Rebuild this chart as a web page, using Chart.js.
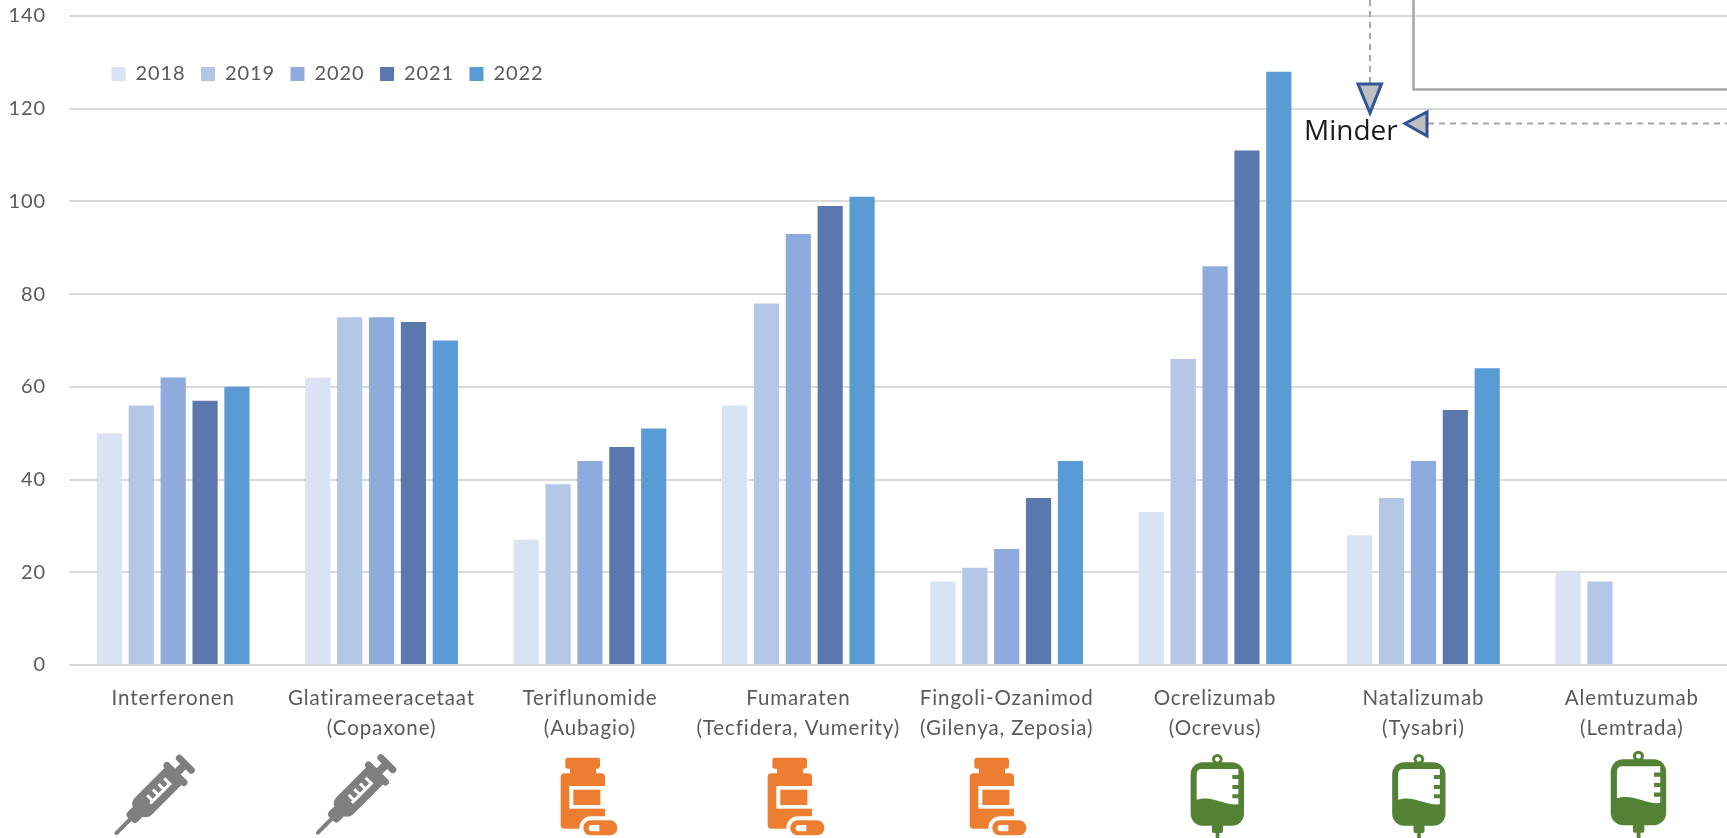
<!DOCTYPE html>
<html>
<head>
<meta charset="utf-8">
<style>
html, body { margin: 0; padding: 0; background: #fff; overflow: hidden; width: 1727px; height: 838px; }
canvas { display: block; }
</style>
<script src="https://cdn.jsdelivr.net/npm/chart.js@4/dist/chart.umd.js"></script>
</head>
<body>
<canvas id="myChart" width="1736" height="838"></canvas>
<script>
var categories = [
    'Interferonen',
    ['Glatirameeracetaat', '(Copaxone)'],
    ['Teriflunomide', '(Aubagio)'],
    ['Fumaraten', '(Tecfidera, Vumerity)'],
    ['Fingoli-Ozanimod', '(Gilenya, Zeposia)'],
    ['Ocrelizumab', '(Ocrevus)'],
    ['Natalizumab', '(Tysabri)'],
    ['Alemtuzumab', '(Lemtrada)']
];
var values2018 = [50, 62, 27, 56, 18, 33, 28, 20];
var values2019 = [56, 75, 39, 78, 21, 66, 36, 18];
var values2020 = [62, 75, 44, 93, 25, 86, 44, null];
var values2021 = [57, 74, 47, 99, 36, 111, 55, null];
var values2022 = [60, 70, 51, 101, 44, 128, 64, null];

var TEXT = '#595959';
var FONT = 'Lato';
var SPACING = '0.9px';

function syringe(ctx, tipX, tipY) {
    ctx.save();
    // local y runs from the needle tip up along the syringe
    ctx.transform(0.7071, 0.7071, 0.7071, -0.7071, tipX, tipY);
    ctx.fillStyle = '#7F7F7F';
    ctx.beginPath();
    ctx.roundRect(-2, 0, 4, 26, 2);
    ctx.roundRect(-7, 21, 14, 13, 4);
    ctx.roundRect(-12, 31, 24, 54, [9, 9, 2, 2]);
    ctx.roundRect(-15.5, 82, 31, 7, 3.5);
    ctx.roundRect(-4, 85, 8, 14, 1);
    ctx.roundRect(-12, 96, 24, 7, 3.5);
    ctx.fill();
    // scale marks on the barrel
    ctx.fillStyle = '#fff';
    ctx.fillRect(1.5, 47, 3, 29);
    ctx.fillRect(-5, 49, 7, 3);
    ctx.fillRect(-5, 57, 7, 3);
    ctx.fillRect(-5, 65, 7, 3);
    ctx.fillRect(-5, 73, 7, 3);
    ctx.restore();
}

function bottle(ctx, ox, oy) {
    ctx.save();
    ctx.translate(ox, oy);
    ctx.scale(1 / 3, 1 / 3);
    ctx.fillStyle = '#ED7D31';
    ctx.beginPath();
    ctx.roundRect(76, 38, 104, 33, 7);
    ctx.rect(90, 68, 78, 20);
    ctx.roundRect(62, 85, 133, 166, 12);
    ctx.fill();
    // label
    ctx.fillStyle = '#fff';
    ctx.fillRect(88, 123, 107, 68);
    ctx.fillStyle = '#ED7D31';
    ctx.fillRect(100, 134, 81, 46);
    // capsule with white halo
    ctx.fillStyle = '#fff';
    ctx.beginPath();
    ctx.roundRect(118, 214, 126, 70, 35);
    ctx.fill();
    ctx.fillStyle = '#ED7D31';
    ctx.beginPath();
    ctx.roundRect(130, 226, 102, 45, 22);
    ctx.fill();
    ctx.fillStyle = '#fff';
    ctx.beginPath();
    ctx.roundRect(146, 240, 32, 19, [9, 0, 0, 9]);
    ctx.fill();
    ctx.restore();
}

function bag(ctx, ox, oy, s) {
    ctx.save();
    ctx.translate(ox, oy);
    ctx.scale(s / 3, s / 3);
    ctx.fillStyle = '#548235';
    ctx.beginPath();
    ctx.arc(142, 43, 16, 0, Math.PI * 2);
    ctx.fill();
    ctx.beginPath();
    ctx.roundRect(62, 52, 160, 190, 36);
    ctx.fill();
    ctx.beginPath();
    ctx.roundRect(126, 238, 33, 26, 6);
    ctx.rect(137, 260, 11, 19);
    ctx.fill();
    ctx.fillStyle = '#fff';
    ctx.beginPath();
    ctx.arc(142, 43, 7, 0, Math.PI * 2);
    ctx.fill();
    // empty part of the bag, wavy liquid level and scale notches
    ctx.beginPath();
    ctx.moveTo(96, 72);
    ctx.lineTo(205, 72);
    ctx.lineTo(205, 90);
    ctx.lineTo(187, 90);
    ctx.lineTo(187, 102);
    ctx.lineTo(205, 102);
    ctx.lineTo(205, 120);
    ctx.lineTo(187, 120);
    ctx.lineTo(187, 132);
    ctx.lineTo(205, 132);
    ctx.lineTo(205, 148);
    ctx.lineTo(187, 148);
    ctx.lineTo(187, 160);
    ctx.lineTo(205, 160);
    ctx.lineTo(205, 178);
    ctx.bezierCurveTo(160, 182, 130, 150, 80, 164);
    ctx.lineTo(80, 88);
    ctx.quadraticCurveTo(80, 72, 96, 72);
    ctx.closePath();
    ctx.fill();
    ctx.restore();
}

function triangle(ctx, x1, y1, x2, y2, x3, y3) {
    ctx.beginPath();
    ctx.moveTo(x1, y1);
    ctx.lineTo(x2, y2);
    ctx.lineTo(x3, y3);
    ctx.closePath();
    ctx.fillStyle = '#BFBFBF';
    ctx.fill();
    ctx.strokeStyle = '#2F5597';
    ctx.lineWidth = 3;
    ctx.lineJoin = 'miter';
    ctx.stroke();
}

// annotation pieces and treatment icons sit outside the axes
var overlays = {
    id: 'overlays',
    beforeUpdate: function (chart) {
        chart.ctx.letterSpacing = SPACING;
    },
    beforeLayout: function (chart) {
        // legend floats over the bars, so it must not reserve any height
        var lg = chart.legend;
        if (!lg._noHeight) {
            var fit = lg.fit;
            lg.fit = function () {
                fit.call(this);
                this.height = 0;
            };
            lg._noHeight = true;
        }
    },
    afterLayout: function (chart) {
        var lg = chart.legend;
        lg.left = 96;
        lg.right = 700;
        lg.top = 48.5;
        lg.bottom = 110;
        lg.adjustHitBoxes();
    },
    afterDraw: function (chart) {
        var ctx = chart.ctx;
        ctx.save();

        // box at the top right
        ctx.strokeStyle = '#A6A6A6';
        ctx.lineWidth = 2.5;
        ctx.beginPath();
        ctx.moveTo(1413.5, 0);
        ctx.lineTo(1413.5, 89.5);
        ctx.lineTo(1736, 89.5);
        ctx.stroke();

        // dashed arrows
        ctx.lineWidth = 2;
        ctx.setLineDash([6, 5]);
        ctx.beginPath();
        ctx.moveTo(1370, 0);
        ctx.lineTo(1370, 84);
        ctx.moveTo(1428, 123.5);
        ctx.lineTo(1736, 123.5);
        ctx.stroke();
        ctx.setLineDash([]);
        triangle(ctx, 1358, 84, 1381.5, 84, 1370, 113);
        triangle(ctx, 1405, 123.5, 1427, 112, 1427, 136);

        ctx.fillStyle = '#1A1A1A';
        ctx.font = '28px "Open Sans"';
        ctx.textAlign = 'left';
        ctx.textBaseline = 'alphabetic';
        ctx.letterSpacing = '0px';
        ctx.fillText('Minder', 1304, 140);

        syringe(ctx, 115, 834.5);
        syringe(ctx, 316.5, 834);
        bottle(ctx, 540, 745);
        bottle(ctx, 747, 745);
        bottle(ctx, 949, 745);
        bag(ctx, 1170, 745, 1);
        bag(ctx, 1371.5, 745, 1);
        bag(ctx, 1589.2, 741.3, 1.04);

        ctx.letterSpacing = SPACING;
        ctx.restore();
    }
};

var ctx = document.getElementById('myChart').getContext('2d');

var myChart = new Chart(ctx, {
    type: 'bar',
    data: {
        labels: categories,
        datasets: [
            { label: '2018', data: values2018, backgroundColor: '#DAE3F3' },
            { label: '2019', data: values2019, backgroundColor: '#B4C7E7' },
            { label: '2020', data: values2020, backgroundColor: '#8FAADC' },
            { label: '2021', data: values2021, backgroundColor: '#5B78AE' },
            { label: '2022', data: values2022, backgroundColor: '#5B9BD5' }
        ]
    },
    options: {
        responsive: false,
        animation: false,
        devicePixelRatio: 1,
        layout: { padding: { top: 16, left: 0, right: 0, bottom: 0 } },
        categoryPercentage: 0.765,
        barPercentage: 0.79,
        plugins: {
            tooltip: { enabled: false },
            legend: {
                position: 'top',
                align: 'start',
                labels: {
                    color: TEXT,
                    font: { family: FONT, size: 20 },
                    boxWidth: 14,
                    boxHeight: 14,
                    padding: 15.5
                }
            }
        },
        scales: {
            x: {
                grid: { display: false },
                border: { display: false },
                afterFit: function (scale) {
                    scale.height = 173;
                    scale.paddingLeft = 0;
                    scale.paddingRight = 0;
                },
                ticks: {
                    color: TEXT,
                    padding: 10,
                    maxRotation: 0,
                    autoSkip: false,
                    font: { family: FONT, size: 20.5, lineHeight: 30 / 20.5 }
                }
            },
            y: {
                min: 0,
                max: 140,
                afterFit: function (scale) {
                    scale.width = 69;
                    scale.paddingTop = 0;
                    scale.paddingBottom = 0;
                },
                grid: { color: '#D9D9D9', lineWidth: 2, drawTicks: false },
                border: { display: false },
                ticks: {
                    stepSize: 20,
                    color: TEXT,
                    padding: 23,
                    font: { family: FONT, size: 20 }
                }
            }
        }
    },
    plugins: [overlays]
});
</script>
</body>
</html>
